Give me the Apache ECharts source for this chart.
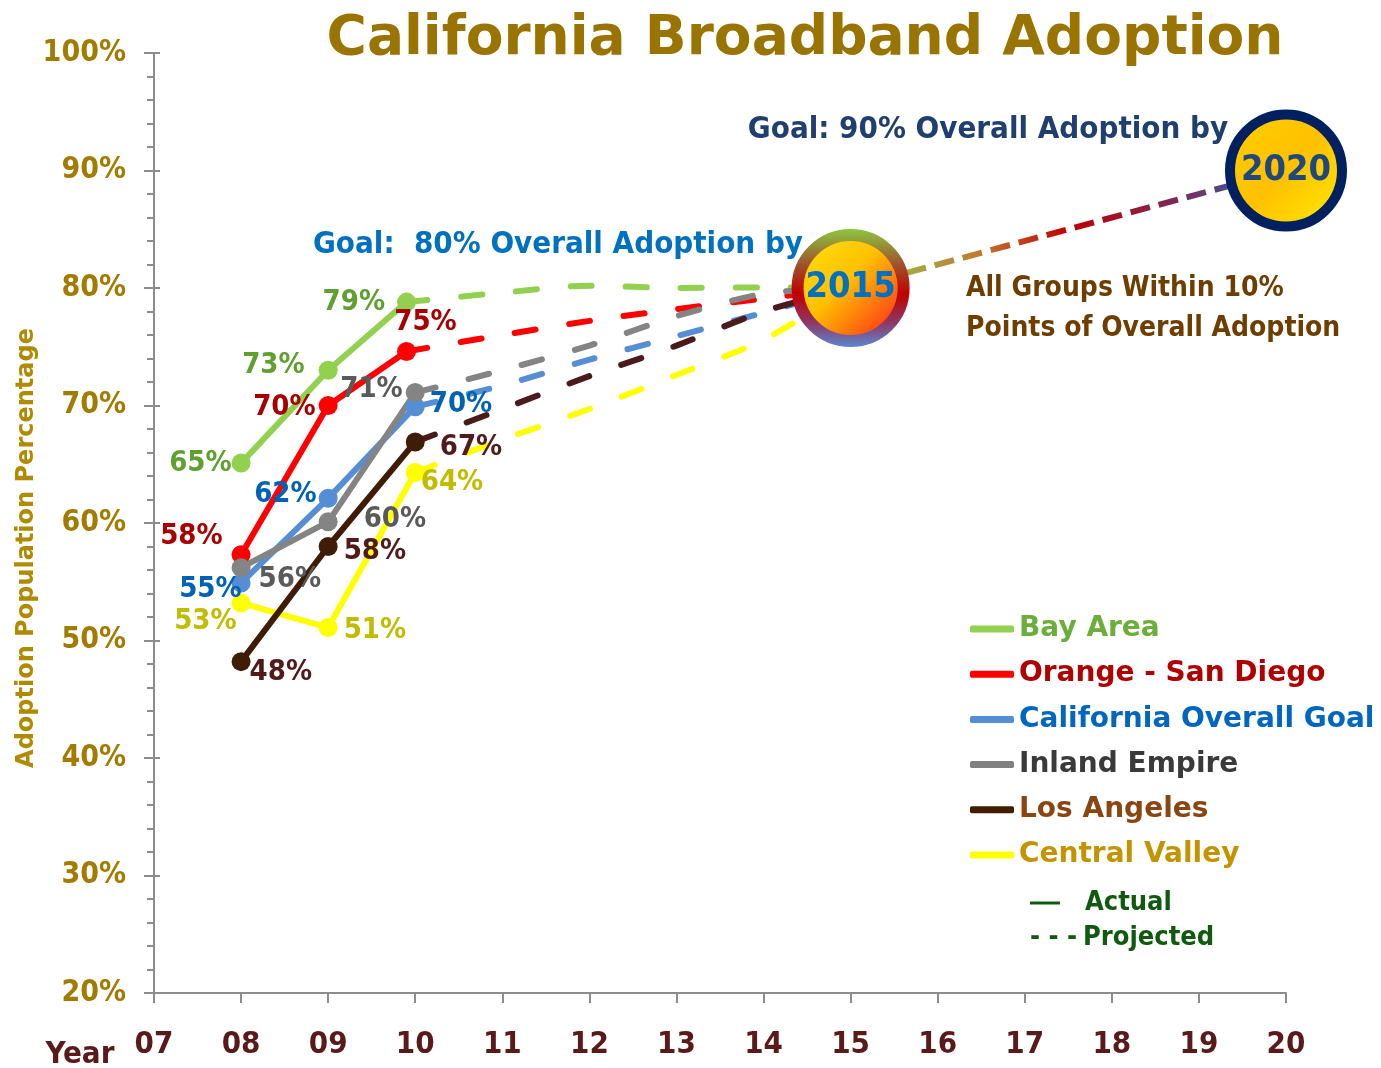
<!DOCTYPE html>
<html><head><meta charset="utf-8">
<script src="https://cdn.jsdelivr.net/npm/echarts@6/dist/echarts.min.js"></script>
<style>html,body{margin:0;padding:0;background:#fff}#chart{width:1381px;height:1068px}</style>
</head><body><div id="chart"></div>
<script>
// ---------------- DATA ----------------
const xTickLabels = ['07','08','09','10','11','12','13','14','15','16','17','18','19','20'];
const yTickLabels = ['20%','30%','40%','50%','60%','70%','80%','90%','100%'];

// actual observations (x = year, value = %)
const bayYears   = [2008, 2009, 2009.9];
const bayArea    = [65.1, 73.0, 78.8];
const bayLabels  = ['65%', '73%', '79%'];

const redYears   = [2008, 2009, 2009.9];
const orangeSD   = [57.3, 70.0, 74.6];
const redLabels  = ['58%', '70%', '75%'];

const blueYears  = [2008, 2009, 2010];
const overall    = [54.9, 62.1, 69.9];
const blueLabels = ['55%', '62%', '70%'];

const greyYears  = [2008, 2009, 2010];
const inland     = [56.2, 60.1, 71.1];
const greyLabels = ['56%', '60%', '71%'];

const laYears    = [2008, 2009, 2010];
const losAngeles = [48.2, 58.0, 66.9];
const laLabels   = ['48%', '58%', '67%'];

const cvYears    = [2008, 2009, 2010];
const central    = [53.2, 51.1, 64.3];
const cvLabels   = ['53%', '51%', '64%'];

// projected values 2011..2015
const projYears  = [2011, 2012, 2013, 2014, 2015];
const bayProj    = [79.6, 80.2, 80.0, 80.05, 80];
const redProj    = [76.0, 77.2, 78.2, 79.1, 80];
const blueProj   = [71.7, 73.9, 75.9, 77.9, 80];
const greyProj   = [73.0, 75.1, 77.6, 79.5, 80];
const laProj     = [69.7, 72.5, 75.1, 78.0, 80];
const cvProj     = [67.1, 69.7, 72.6, 75.6, 80];

// goals
const goalYears  = [2015, 2020];
const goalValues = [80, 90];
const goalLabels = ['2015', '2020'];

const legendNames = ['Bay Area','Orange - San Diego','California Overall Goal','Inland Empire','Los Angeles','Central Valley'];

// ---------------- STYLE ----------------
const FC = '"DejaVu Sans Condensed","Liberation Sans Narrow","DejaVu Sans",sans-serif';
const FW = '"DejaVu Sans",sans-serif';

const place = {
  bay:  [{position:'left',distance:0,offset:[0,0]},{position:'left',distance:14,offset:[0,-5]},{position:'left',distance:12,offset:[0,0]}],
  red:  [{position:'left',distance:9,offset:[0,-18]},{position:'left',distance:3,offset:[0,2]},{position:'top',distance:5,offset:[19,0]}],
  blue: [{position:'left',distance:-10,offset:[0,7]},{position:'left',distance:2,offset:[0,-4]},{position:'right',distance:5,offset:[0,-2]}],
  grey: [{position:'right',distance:8,offset:[0,12]},{position:'right',distance:26,offset:[0,-2]},{position:'left',distance:3,offset:[0,-3]}],
  la:   [{position:'right',distance:-1,offset:[0,11]},{position:'right',distance:6,offset:[0,5]},{position:'right',distance:15,offset:[0,6]}],
  cv:   [{position:'left',distance:-5,offset:[0,19]},{position:'right',distance:6,offset:[0,3]},{position:'right',distance:-4,offset:[0,10]}]
};

function actual(name, xs, ys, labels, color, pl, labelColor, z) {
  return {
    name, type:'line', z, symbol:'circle', symbolSize:19, showSymbol:true,
    lineStyle:{color, width:6}, itemStyle:{color},
    data: xs.map((x,i)=>({value:[x, ys[i]], label:Object.assign({}, pl[i])})),
    label:{show:true, formatter:p=>labels[p.dataIndex], color:labelColor,
      fontFamily:FC, fontWeight:'bold', fontSize:29},
    emphasis:{disabled:true}
  };
}
function projected(name, x0, y0, vals, color, z) {
  const data = [[x0, y0]].concat(projYears.map((x,i)=>[x, vals[i]]));
  return {
    name: name + ' (projected)', type:'line', z, smooth:0.3, symbol:'none',
    lineStyle:{color, width:6, type:[21,34], cap:'round'},
    data, emphasis:{disabled:true}, silent:true
  };
}

const colors = {bay:'#92D050', red:'#FF0000', blue:'#558ED5', grey:'#848484', la:'#3F1C06', cv:'#FFFF00'};

const series = [
  projected('Bay Area', bayYears[2], bayArea[2], bayProj, '#92D050', 1),
  projected('Orange - San Diego', redYears[2], orangeSD[2], redProj, '#FF0000', 1),
  projected('Inland Empire', greyYears[2], inland[2], greyProj, '#848484', 1),
  projected('California Overall Goal', blueYears[2], overall[2], blueProj, '#558ED5', 1),
  projected('Los Angeles', laYears[2], losAngeles[2], laProj, '#4B1A1A', 1),
  projected('Central Valley', cvYears[2], central[2], cvProj, '#FFFF00', 1),
  actual('Central Valley', cvYears, central, cvLabels, colors.cv, place.cv, '#C2BC00', 2),
  actual('Bay Area', bayYears, bayArea, bayLabels, colors.bay, place.bay, '#5FA030', 2),
  actual('Orange - San Diego', redYears, orangeSD, redLabels, colors.red, place.red, '#A80000', 2),
  actual('California Overall Goal', blueYears, overall, blueLabels, colors.blue, place.blue, '#0062B4', 2),
  actual('Inland Empire', greyYears, inland, greyLabels, colors.grey, place.grey, '#5A5A5A', 2),
  actual('Los Angeles', laYears, losAngeles, laLabels, colors.la, place.la, '#521A1A', 2),
  {
    name:'Goal path', type:'line', z:3, symbol:'none', silent:true,
    data: goalYears.map((x,i)=>[x, goalValues[i]]),
    lineStyle:{width:6, type:[20,9], color:{type:'linear',x:0,y:0,x2:1,y2:0,colorStops:[
      {offset:0,color:'#92D050'},{offset:0.3,color:'#C07A30'},{offset:0.5,color:'#C00000'},
      {offset:0.75,color:'#7A2A5A'},{offset:1,color:'#1F6FC0'}]}}
  },
  {
    name:'Goal', type:'scatter', z:4, clip:false, silent:true,
    data: goalYears.map((x,i)=>({value:[x, goalValues[i]]})),
    symbolSize:(v,p)=> p.dataIndex===0 ? 106 : 112,
    itemStyle:{opacity:1},
    label:{show:true, position:'inside', formatter:p=>goalLabels[p.dataIndex],
      fontFamily:FC, fontWeight:'bold', fontSize:36},
    emphasis:{disabled:true}
  }
];
// per-item styles for the goal circles
const goalSeries = series[series.length-1];
goalSeries.data[0].itemStyle = {opacity:1, borderWidth:12,
  color:{type:'linear',x:0,y:0,x2:1,y2:1,colorStops:[{offset:0,color:'#FFE81A'},{offset:0.45,color:'#FFC000'},{offset:0.75,color:'#FF5A10'},{offset:1,color:'#E00000'}]},
  borderColor:{type:'linear',x:0,y:0,x2:0,y2:1,colorStops:[
  {offset:0,color:'#8DC63F'},{offset:0.3,color:'#A0522D'},{offset:0.55,color:'#C00000'},{offset:0.8,color:'#8B3A6A'},{offset:1,color:'#5B87D0'}]}};
goalSeries.data[0].label = {color:'#0070C0'};
goalSeries.data[1].itemStyle = {opacity:1, borderWidth:10, borderColor:'#002060',
  color:{type:'linear',x:0,y:0,x2:1,y2:1,colorStops:[{offset:0,color:'#FFD000'},{offset:0.5,color:'#FFC000'},{offset:1,color:'#FFEE00'}]}};
goalSeries.data[1].label = {color:'#1F497D'};

const legendColors = ['#6CAE3A','#B00000','#0066C0','#3A3A3A','#8A4510','#C49400'];
const legendIcons  = ['#92D050','#FF0000','#558ED5','#808080','#3F1F00','#FFFF00'];

const mid = {textAlign:'center', textVerticalAlign:'middle', align:'center', verticalAlign:'middle'};
const leftMid = {textAlign:'left', textVerticalAlign:'middle', align:'left', verticalAlign:'middle'};

const option = {
  animation:false,
  backgroundColor:'#ffffff',
  grid:{left:154, right:95, top:53, bottom:75, containLabel:false},
  xAxis:{
    type:'value', min:2007, max:2020, interval:1,
    axisLine:{lineStyle:{color:'#8C8C8C', width:2}},
    axisTick:{show:true, length:10, lineStyle:{color:'#8C8C8C', width:2}},
    splitLine:{show:false},
    axisLabel:{margin:36, formatter:v=>xTickLabels[Math.round(v-2007)], color:'#5A1A1A',
      fontFamily:FC, fontWeight:'bold', fontSize:31}
  },
  yAxis:[{
    type:'value', min:20, max:100, interval:10,
    axisLine:{show:true, lineStyle:{color:'#8C8C8C', width:2}},
    axisTick:{show:true, length:10, lineStyle:{color:'#8C8C8C', width:2}},
    minorTick:{show:true, splitNumber:5, length:7, lineStyle:{color:'#8C8C8C', width:2}},
    splitLine:{show:false},
    axisLabel:{margin:28, formatter:v=>yTickLabels[Math.round((v-20)/10)], color:'#A27B00',
      fontFamily:FC, fontWeight:'bold', fontSize:30}
  },{
    type:'value', min:20, max:100, interval:10, position:'left',
    axisLine:{show:false}, axisLabel:{show:false}, splitLine:{show:false},
    axisTick:{show:true, inside:true, length:6, lineStyle:{color:'#8C8C8C', width:2}}
  }],
  legend:{
    orient:'vertical', left:970, top:614, padding:0, itemGap:15.2, itemWidth:44, itemHeight:7,
    icon:'roundRect', selectedMode:false,
    textStyle:{fontFamily:FW, fontWeight:'bold', fontSize:28, lineHeight:30},
    data: legendNames.map((n,i)=>({name:n, itemStyle:{color:legendIcons[i]}, textStyle:{color:legendColors[i]}}))
  },
  graphic:[
    {type:'text', x:805, y:40, style:Object.assign({text:'California Broadband Adoption', font:'bold 55px "DejaVu Sans"', fill:'#9A7400'}, mid)},
    {type:'text', x:27, y:548, rotation:Math.PI/2, style:Object.assign({text:'Adoption Population Percentage', font:'bold 24px "DejaVu Sans"', fill:'#B08A00'}, mid)},
    {type:'text', x:80, y:1055, style:Object.assign({text:'Year', font:'bold 31px '+FC, fill:'#5A1A1A'}, mid)},
    {type:'text', x:988, y:130, style:Object.assign({text:'Goal: 90% Overall Adoption by', font:'bold 31px '+FC, fill:'#1F3F70'}, mid)},
    {type:'text', x:558, y:245, style:Object.assign({text:'Goal:  80% Overall Adoption by', font:'bold 31px '+FC, fill:'#0070C0'}, mid)},
    {type:'text', x:966, y:289, style:Object.assign({text:'All Groups Within 10%', font:'bold 28px '+FC, fill:'#6E3E00'}, leftMid)},
    {type:'text', x:966, y:329, style:Object.assign({text:'Points of Overall Adoption', font:'bold 28px '+FC, fill:'#6E3E00'}, leftMid)},
    {type:'line', shape:{x1:1030, y1:903, x2:1060, y2:903}, style:{stroke:'#0F5A0F', lineWidth:3}},
    {type:'text', x:1085, y:903, style:Object.assign({text:'Actual', font:'bold 27px '+FC, fill:'#0F5A0F'}, leftMid)},
    {type:'text', x:1030, y:938, style:Object.assign({text:'- - -', font:'bold 27px '+FC, fill:'#0F5A0F'}, leftMid)},
    {type:'text', x:1083, y:938, style:Object.assign({text:'Projected', font:'bold 27px '+FC, fill:'#0F5A0F'}, leftMid)}
  ],
  series
};
const chart = echarts.init(document.getElementById('chart'), null, {renderer:'canvas'});
chart.setOption(option);
</script></body></html>
